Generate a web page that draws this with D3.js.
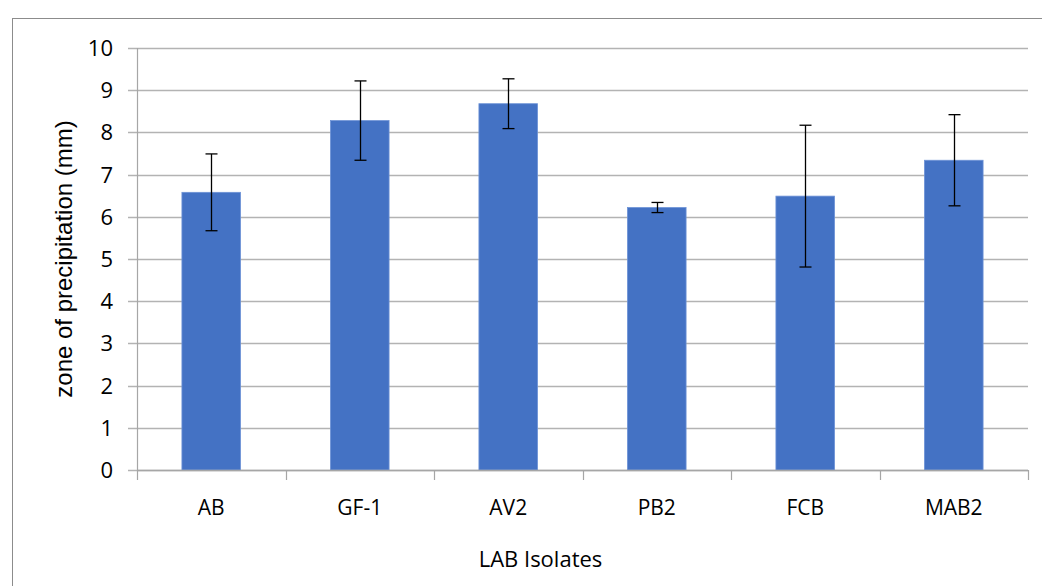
<!DOCTYPE html>
<html>
<head>
<meta charset="utf-8">
<script src="https://cdn.jsdelivr.net/npm/d3@7"></script>
<style>
  html, body { margin: 0; padding: 0; background: #fff; }
  svg { display: block; }
</style>
</head>
<body>
<svg id="chart" width="1042" height="586"></svg>
<script>
const categories = ["AB", "GF-1", "AV2", "PB2", "FCB", "MAB2"];
const values = [6.58, 8.28, 8.68, 6.22, 6.49, 7.34];
const errors = [0.91, 0.94, 0.59, 0.12, 1.68, 1.08];
const yTicks = [0, 1, 2, 3, 4, 5, 6, 7, 8, 9, 10];
const xTitle = "LAB Isolates";
const yTitle = "zone of precipitation (mm)";

(function () {
const svg = d3.select("#chart");
const mLeft = 137, mRight = 1028, mTop = 48, mBottom = 470;

// outer chart border
svg.append("rect")
  .attr("x", 12.5).attr("y", 18.5)
  .attr("width", 1042).attr("height", 600)
  .attr("fill", "none").attr("stroke", "#8c8c8c").attr("stroke-width", 1);

const x = d3.scaleBand().domain(categories).range([mLeft, mRight]).paddingInner(0.605).paddingOuter(0.3025);
const y = d3.scaleLinear().domain([0, 10]).range([mBottom, mTop]);

// gridlines
svg.append("g")
  .selectAll("line").data(yTicks).join("line")
  .attr("x1", mLeft - 9).attr("x2", mRight)
  .attr("y1", d => Math.round(y(d)) + 0.5).attr("y2", d => Math.round(y(d)) + 0.5)
  .attr("stroke", "#b3b3b3").attr("stroke-width", 1.3);

// y axis line
svg.append("line")
  .attr("x1", mLeft + 0.5).attr("x2", mLeft + 0.5)
  .attr("y1", mTop).attr("y2", mBottom)
  .attr("stroke", "#a6a6a6").attr("stroke-width", 1.2);

// y tick labels
svg.append("g")
  .selectAll("text").data(yTicks).join("text")
  .attr("x", 113).attr("y", d => y(d))
  .attr("dy", "0.36em")
  .attr("text-anchor", "end")
  .attr("font-family", "'Open Sans', sans-serif")
  .attr("font-size", 22)
  .attr("fill", "#000")
  .text(d => d);

// bars
svg.append("g")
  .selectAll("rect").data(categories).join("rect")
  .attr("x", d => x(d))
  .attr("y", (d, i) => y(values[i]))
  .attr("width", x.bandwidth())
  .attr("height", (d, i) => y(0) - y(values[i]))
  .attr("fill", "#4472C4")
  .attr("stroke", "#6e93d6").attr("stroke-width", 0.8);

// x axis line + ticks
const step = x.step();
const xTickPos = d3.range(categories.length + 1).map(i => mLeft + i * step);
svg.append("line")
  .attr("x1", mLeft).attr("x2", mRight)
  .attr("y1", mBottom + 0.5).attr("y2", mBottom + 0.5)
  .attr("stroke", "#a6a6a6").attr("stroke-width", 1.3);
svg.append("g")
  .selectAll("line").data(xTickPos).join("line")
  .attr("x1", d => Math.round(d) + 0.5).attr("x2", d => Math.round(d) + 0.5)
  .attr("y1", mBottom).attr("y2", mBottom + 10)
  .attr("stroke", "#a6a6a6").attr("stroke-width", 1.2);

// error bars
const eg = svg.append("g").attr("stroke", "#000").attr("stroke-width", 1.3);
categories.forEach((c, i) => {
  const cx = Math.round(x(c) + x.bandwidth() / 2) + 0.5;
  const yt = y(values[i] + errors[i]);
  const yb = y(values[i] - errors[i]);
  eg.append("line").attr("x1", cx).attr("x2", cx).attr("y1", yt).attr("y2", yb);
  eg.append("line").attr("x1", cx - 6).attr("x2", cx + 6).attr("y1", yt).attr("y2", yt);
  eg.append("line").attr("x1", cx - 6).attr("x2", cx + 6).attr("y1", yb).attr("y2", yb);
});

// x tick labels
svg.append("g")
  .selectAll("text").data(categories).join("text")
  .attr("x", d => x(d) + x.bandwidth() / 2)
  .attr("y", 515)
  .attr("text-anchor", "middle")
  .attr("font-family", "'Open Sans', sans-serif")
  .attr("font-size", 21)
  .attr("fill", "#000")
  .text(d => d);

// x title
svg.append("text")
  .attr("x", (mLeft + mRight) / 2 - 42)
  .attr("y", 567)
  .attr("text-anchor", "middle")
  .attr("font-family", "'Open Sans', sans-serif")
  .attr("font-size", 22)
  .attr("fill", "#000")
  .text(xTitle);

// y title
svg.append("text")
  .attr("transform", `translate(72, ${(mTop + mBottom) / 2}) rotate(-90)`)
  .attr("text-anchor", "middle")
  .attr("font-family", "'Liberation Sans', Arial, sans-serif")
  .attr("font-size", 24)
  .attr("fill", "#000")
  .text(yTitle);
})();
</script>
</body>
</html>
